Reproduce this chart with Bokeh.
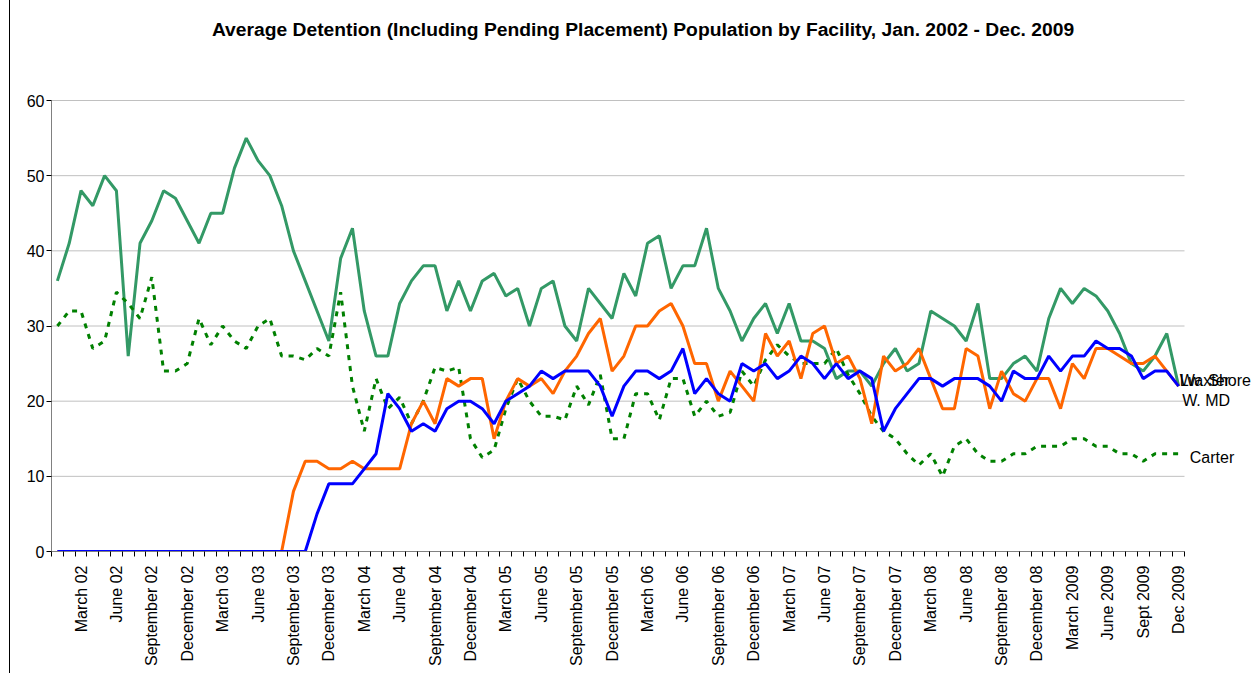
import math
from bokeh.plotting import figure
from bokeh.models import Range1d, FixedTicker, Label
from bokeh.embed import file_html
from bokeh.resources import INLINE

# Monthly averages, Jan 2002 - Dec 2009 (96 months)
waxter = [36, 41, 48, 46, 50, 48, 26, 41, 44, 48, 47, 44,
          41, 45, 45, 51, 55, 52, 50, 46, 40, 36, 32, 28,
          39, 43, 32, 26, 26, 33, 36, 38, 38, 32, 36, 32,
          36, 37, 34, 35, 30, 35, 36, 30, 28, 35, 33, 31,
          37, 34, 41, 42, 35, 38, 38, 43, 35, 32, 28, 31,
          33, 29, 33, 28, 28, 27, 23, 24, 24, 22, 25, 27,
          24, 25, 32, 31, 30, 28, 33, 23, 23, 25, 26, 24,
          31, 35, 33, 35, 34, 32, 29, 25, 24, 26, 29, 22]
lw_shore = [0, 0, 0, 0, 0, 0, 0, 0, 0, 0, 0, 0,
            0, 0, 0, 0, 0, 0, 0, 0, 8, 12, 12, 11,
            11, 12, 11, 11, 11, 11, 17, 20, 17, 23, 22, 23,
            23, 15, 20, 23, 22, 23, 21, 24, 26, 29, 31, 24,
            26, 30, 30, 32, 33, 30, 25, 25, 20, 24, 22, 20,
            29, 26, 28, 23, 29, 30, 25, 26, 23, 17, 26, 24,
            25, 27, 23, 19, 19, 27, 26, 19, 24, 21, 20, 23,
            23, 19, 25, 23, 27, 27, 26, 25, 25, 26, 24, 22]
w_md = [0, 0, 0, 0, 0, 0, 0, 0, 0, 0, 0, 0,
        0, 0, 0, 0, 0, 0, 0, 0, 0, 0, 5, 9,
        9, 9, 11, 13, 21, 19, 16, 17, 16, 19, 20, 20,
        19, 17, 20, 21, 22, 24, 23, 24, 24, 24, 22, 18,
        22, 24, 24, 23, 24, 27, 21, 23, 21, 20, 25, 24,
        25, 23, 24, 26, 25, 23, 25, 23, 24, 23, 16, 19,
        21, 23, 23, 22, 23, 23, 23, 22, 20, 24, 23, 23,
        26, 24, 26, 26, 28, 27, 27, 26, 23, 24, 24, 22]
carter = [30, 32, 32, 27, 28, 34.5, 33, 31, 36.5, 24, 24, 25,
          31, 27.5, 30, 28, 27, 30, 31, 26, 26, 25.5, 27, 26,
          34.5, 22, 16, 23, 19, 20.5, 17, 20, 24.5, 24, 24.5, 15,
          12.5, 13.5, 19, 23, 20, 18, 18, 17.5, 22, 19.5, 23.5, 15,
          15, 21, 21, 17.5, 23, 23, 18, 20, 18, 18.5, 24, 22,
          25.5, 27.5, 26, 25, 25, 25, 27, 23.5, 21, 18, 16, 15,
          13, 11.5, 13, 10, 14, 15, 13, 12, 12, 13, 13, 14,
          14, 14, 15, 15, 14, 14, 13, 13, 12, 13, 13, 13]

tick_labels = ["March 02", "June 02", "September 02", "December 02",
               "March 03", "June 03", "September 03", "December 03",
               "March 04", "June 04", "September 04", "December 04",
               "March 05", "June 05", "September 05", "December 05",
               "March 06", "June 06", "September 06", "December 06",
               "March 07", "June 07", "September 07", "December 07",
               "March 08", "June 08", "September 08", "December 08",
               "March 2009", "June 2009", "Sept 2009", "Dec 2009"]
y_ticks = [0, 10, 20, 30, 40, 50, 60]

FONT = "Liberation Sans"
n = len(waxter)
xs = list(range(n))

SHIFT = 10           # chart border sits 10px in from the left
W, H = 1246, 673
LEFT, BOTTOM = 51 - SHIFT, 122
plot_w = 1133.0   # pixel width of the 96 categories
plot_h = 451.0    # pixel height of 0..60
x_end = -0.5 + n * (W - LEFT) / plot_w
y_end = 60 * (H - BOTTOM) / plot_h

p = figure(width=W, height=H, output_backend="svg", toolbar_location=None,
           x_range=Range1d(-0.5, x_end), y_range=Range1d(0, y_end),
           min_border_left=LEFT, min_border_right=0, min_border_top=0,
           min_border_bottom=BOTTOM)
p.styles = {"margin-left": f"{SHIFT - 1}px", "border-left": "1px solid #000000"}
p.outline_line_color = None
p.background_fill_color = "white"
p.border_fill_color = "white"
p.xgrid.visible = False
p.ygrid.visible = False

# axes
tick_pos = [2 + 3 * k for k in range(len(tick_labels))]
xa = p.xaxis[0]
xa.bounds = (-0.5, n - 0.5)
xa.ticker = FixedTicker(ticks=tick_pos, minor_ticks=[i - 0.5 for i in range(n + 1)])
xa.major_label_overrides = {t: l for t, l in zip(tick_pos, tick_labels)}
xa.major_label_orientation = math.pi / 2
xa.major_tick_out = 0
xa.major_tick_in = 0
xa.minor_tick_out = 5
xa.minor_tick_in = 0
xa.minor_tick_line_color = "#000000"
xa.axis_line_color = "#808080"
xa.major_label_standoff = 9
xa.major_label_text_font = FONT
xa.major_label_text_font_size = "16px"
xa.major_label_text_color = "#000000"

ya = p.yaxis[0]
ya.bounds = (0, 60)
ya.ticker = FixedTicker(ticks=y_ticks)
ya.major_tick_out = 5
ya.major_tick_in = 0
ya.minor_tick_out = 0
ya.minor_tick_in = 0
ya.major_tick_line_color = "#000000"
ya.axis_line_color = "#808080"
ya.major_label_standoff = 2
ya.major_label_text_font = FONT
ya.major_label_text_font_size = "16px"
ya.major_label_text_color = "#000000"

# horizontal gridlines limited to the category span
g = y_ticks[1:]
p.segment(x0=[-0.5] * len(g), x1=[n - 0.5] * len(g), y0=g, y1=g,
          line_color="#C0C0C0", line_width=1)

# series
p.line(xs, waxter, line_color="#339966", line_width=3)
p.line(xs, carter, line_color="#008000", line_width=3, line_dash="5 6")
p.line(xs, lw_shore, line_color="#FF6600", line_width=3)
p.line(xs, w_md, line_color="#0000FF", line_width=3)

# title
p.add_layout(Label(x=49.62, y=69.45,
                   text="Average Detention (Including Pending Placement) Population by Facility, Jan. 2002 - Dec. 2009",
                   text_font=FONT, text_font_size="19.25px", text_font_style="bold",
                   text_align="center", text_baseline="middle", text_color="#000000"))

# end-of-line labels
for name, yy, xx in [("Waxter", 22.75, 95.10), ("Lw. Shore", 22.75, 95.10),
                     ("W. MD", 20.09, 95.30), ("Carter", 12.55, 95.95)]:
    p.add_layout(Label(x=xx, y=yy, text=name, text_font=FONT, text_font_size="16px",
                       text_align="left", text_baseline="middle", text_color="#000000"))

open("out.html", "w").write(file_html(p, INLINE))
